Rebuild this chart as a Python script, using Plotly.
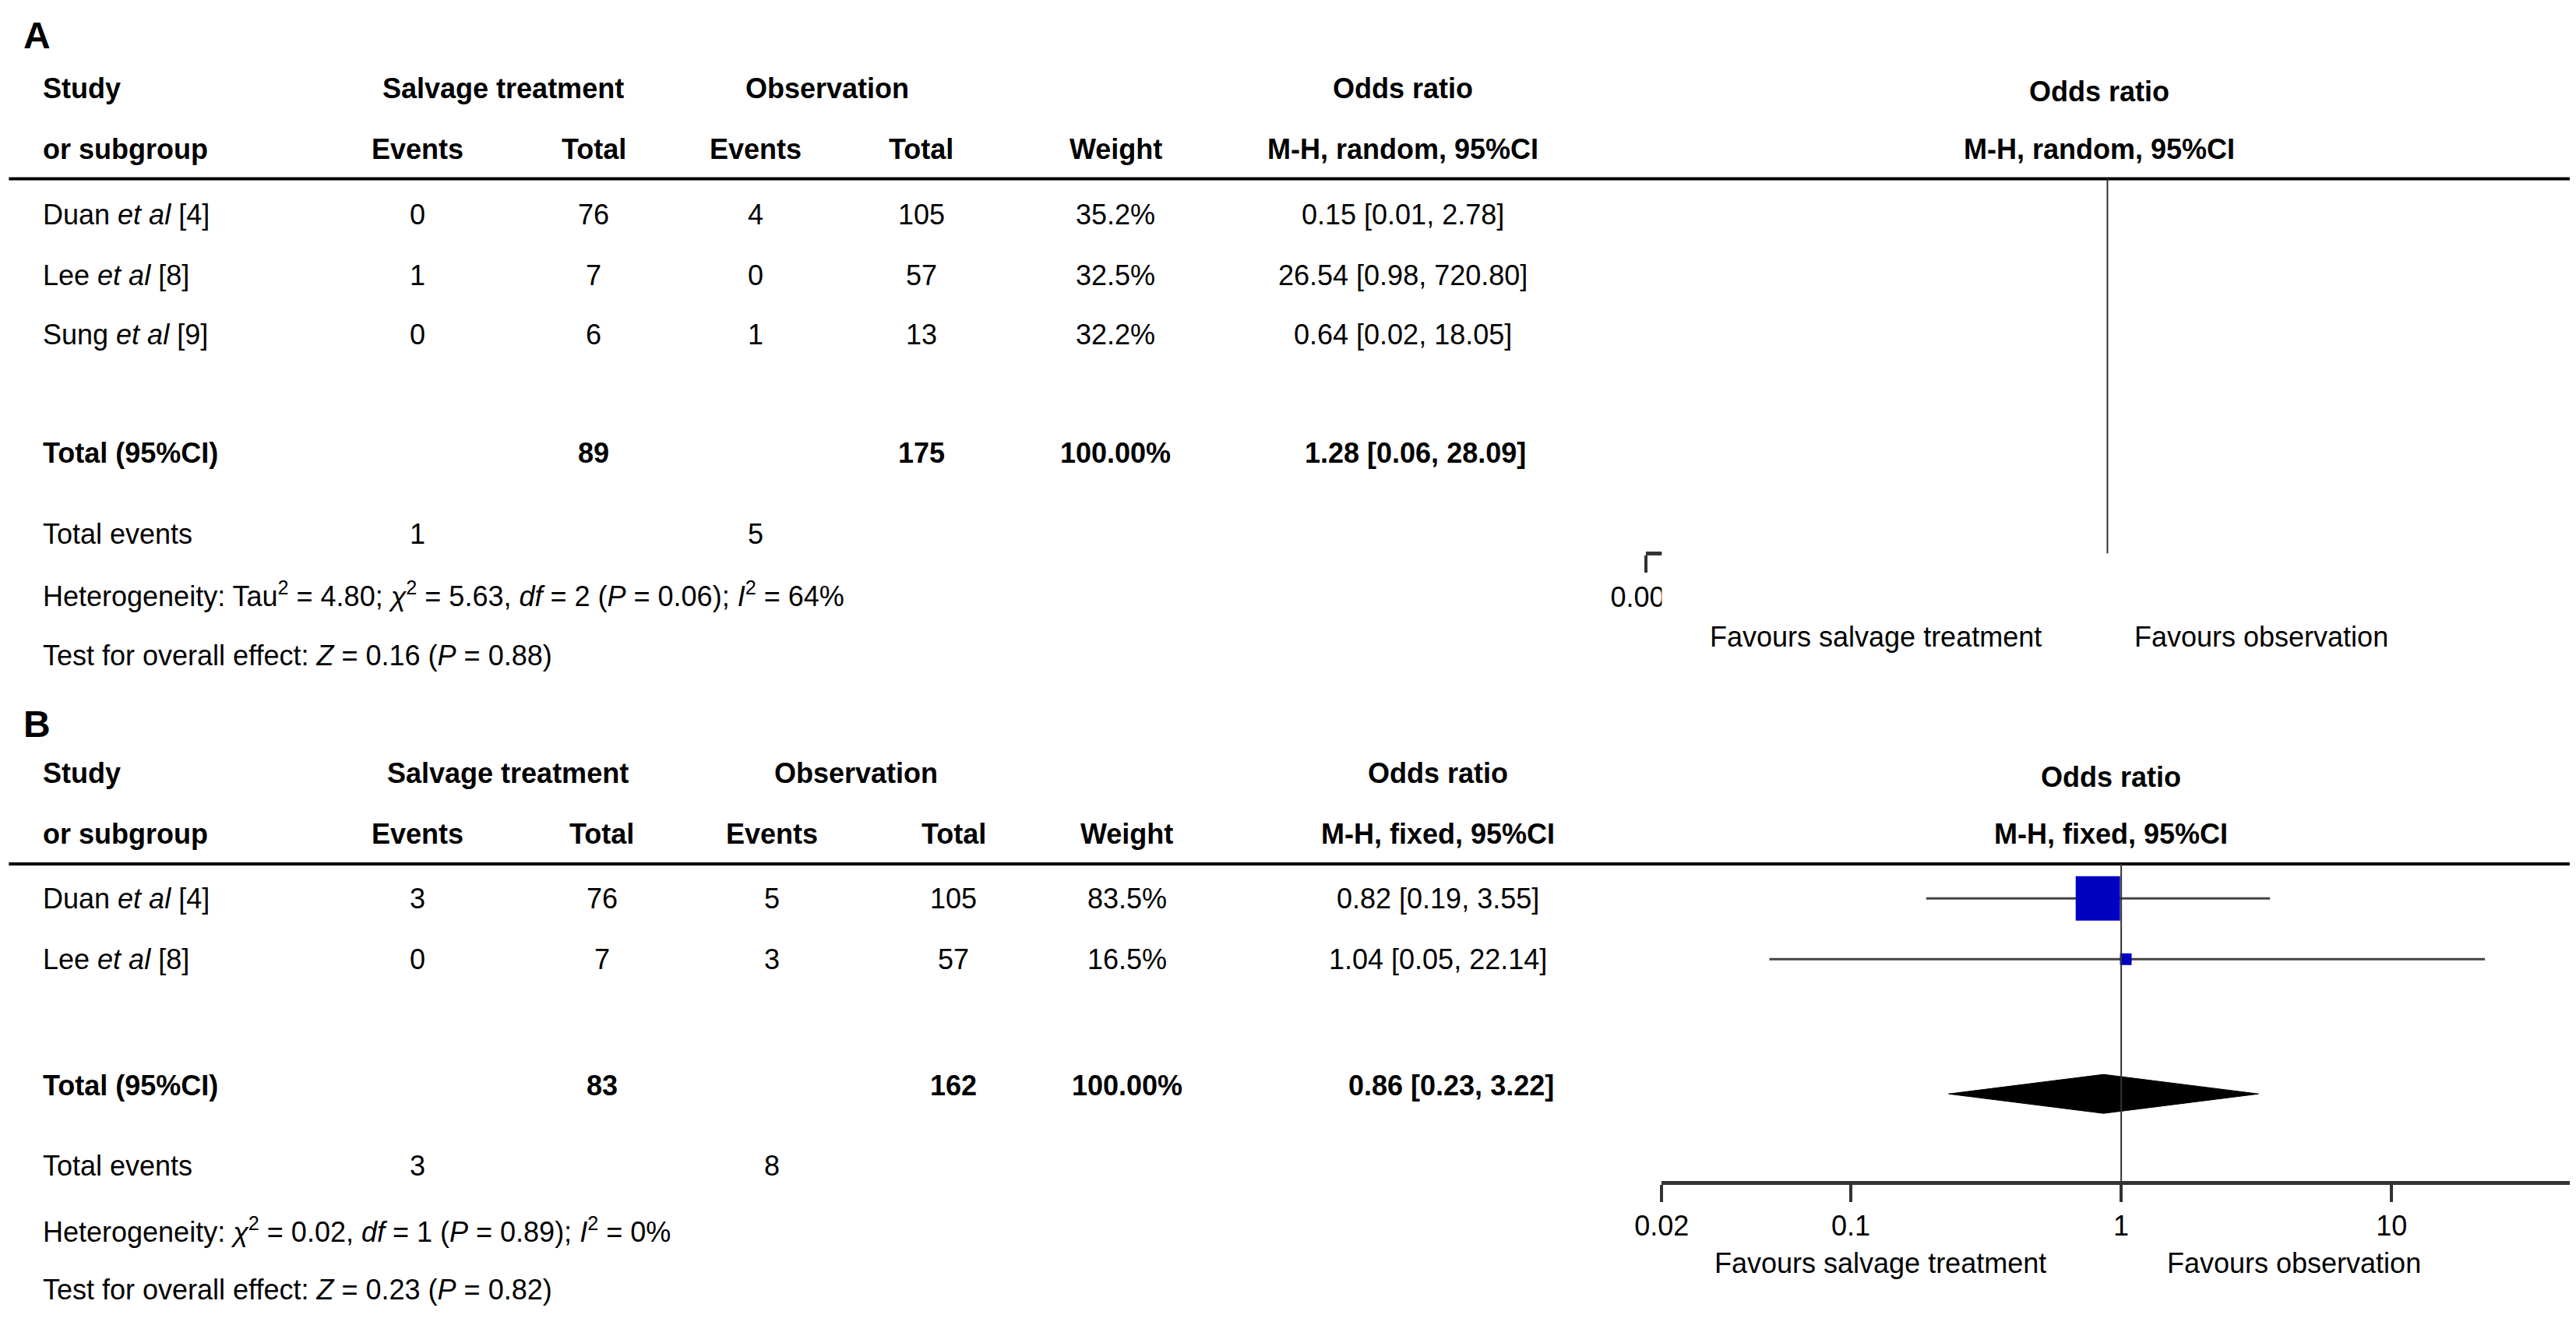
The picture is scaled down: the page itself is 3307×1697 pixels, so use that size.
import plotly.graph_objects as go

W, H = 3307, 1697
S = W / 1568.0          # reference sketch units -> page pixels
FONT = "Liberation Sans"
FS = 36

# ===========[ Data: panel A ]=========== #
studies_a = ["Duan <i>et al</i> [4]", "Lee <i>et al</i> [8]", "Sung <i>et al</i> [9]"]
ev_s_a = [0, 1, 0]
tot_s_a = [76, 7, 6]
ev_o_a = [4, 0, 1]
tot_o_a = [105, 57, 13]
weight_a = ["35.2%", "32.5%", "32.2%"]
or_a = [0.15, 26.54, 0.64]
lo_a = [0.01, 0.98, 0.02]
hi_a = [2.78, 720.80, 18.05]
total_a = {"s": 89, "o": 175, "ev_s": 1, "ev_o": 5, "or": 1.28, "lo": 0.06, "hi": 28.09}
ticks_a = [0.001, 0.1, 1, 10, 1000]

# ===========[ Data: panel B ]=========== #
studies_b = ["Duan <i>et al</i> [4]", "Lee <i>et al</i> [8]"]
ev_s_b = [3, 0]
tot_s_b = [76, 7]
ev_o_b = [5, 3]
tot_o_b = [105, 57]
weight_b = ["83.5%", "16.5%"]
or_b = [0.82, 1.04]
lo_b = [0.19, 0.05]
hi_b = [3.55, 22.14]
total_b = {"s": 83, "o": 162, "ev_s": 3, "ev_o": 8, "or": 0.86, "lo": 0.23, "hi": 3.22}
ticks_b = [0.02, 0.1, 1, 10, 50]

fig = go.Figure()
ann = []


def T(x, y, text, anchor="center", bold=False, size=FS):
	if bold:
		text = "<b>" + text + "</b>"
	ann.append(dict(x=x * S / W, y=1 - y * S / H, xref="paper", yref="paper", text=text,
		showarrow=False, xanchor=anchor, yanchor="middle", font=dict(family=FONT, size=size, color="black")))


def panel(xa, y0, cols, studies, ev_s, tot_s, ev_o, tot_o, wts, ors, los, his, tot, model, rows_y, tot_y, sizes, dia_h):
	c_ev_s, c_tot_s, c_ev_o, c_tot_o, c_w, c_or, c_right, c_sal, c_obs = cols
	# headers
	T(0, y0, "Study", "left", True)
	T(0, y0 + 37, "or subgroup", "left", True)
	T(c_sal, y0, "Salvage treatment", bold=True)
	T(c_obs, y0, "Observation", bold=True)
	T(c_ev_s, y0 + 37, "Events", bold=True)
	T(c_tot_s, y0 + 37, "Total", bold=True)
	T(c_ev_o, y0 + 37, "Events", bold=True)
	T(c_tot_o, y0 + 37, "Total", bold=True)
	T(c_w, y0 + 37, "Weight", bold=True)
	T(c_or, y0, "Odds ratio", bold=True)
	T(c_or, y0 + 37, "M-H, %s, 95%%CI" % model, bold=True)
	T(c_right, y0 + 2, "Odds ratio", bold=True)
	T(c_right, y0 + 37, "M-H, %s, 95%%CI" % model, bold=True)
	for i, st in enumerate(studies):
		y = rows_y[i]
		T(0, y, st, "left")
		T(c_ev_s, y, str(ev_s[i]))
		T(c_tot_s, y, str(tot_s[i]))
		T(c_ev_o, y, str(ev_o[i]))
		T(c_tot_o, y, str(tot_o[i]))
		T(c_w, y, wts[i])
		T(c_or, y, "%.2f [%.2f, %.2f]" % (ors[i], los[i], his[i]))
		fig.add_trace(go.Scatter(x=[los[i], his[i]], y=[y * S, y * S], mode="lines", xaxis=xa, yaxis="y",
			line=dict(color="#444444", width=3), showlegend=False, hoverinfo="skip"))
		fig.add_trace(go.Scatter(x=[ors[i]], y=[y * S], mode="markers", xaxis=xa, yaxis="y",
			marker=dict(symbol="square", size=sizes[i], color="#0000c0", line_width=0), showlegend=False))
	T(0, tot_y, "Total (95%CI)", "left", True)
	T(c_tot_s, tot_y, str(tot["s"]), bold=True)
	T(c_tot_o, tot_y, str(tot["o"]), bold=True)
	T(c_w, tot_y, "100.00%", bold=True)
	T(c_or + 8, tot_y, "%.2f [%.2f, %.2f]" % (tot["or"], tot["lo"], tot["hi"]), bold=True)
	yd = (tot_y + 5) * S
	fig.add_trace(go.Scatter(x=[tot["lo"], tot["or"], tot["hi"], tot["or"], tot["lo"]],
		y=[yd, yd - dia_h, yd, yd + dia_h, yd], mode="lines", fill="toself", fillcolor="black",
		line=dict(color="black", width=1), xaxis=xa, yaxis="y", showlegend=False, hoverinfo="skip"))
	T(0, tot_y + 49, "Total events", "left")
	T(c_ev_s, tot_y + 49, str(tot["ev_s"]))
	T(c_ev_o, tot_y + 49, str(tot["ev_o"]))


# Panel A
T(-12, 18, "A", "left", True, 48)
panel("x2", 50, (232, 341, 441, 543, 663, 840, 1270, 285, 485), studies_a, ev_s_a, tot_s_a, ev_o_a, tot_o_a,
	weight_a, or_a, lo_a, hi_a, total_a, "random", [127, 164, 200], 272, [28, 28, 28], 25)
T(0, 358, "Heterogeneity: Tau<sup>2</sup> = 4.80; <i>χ</i><sup>2</sup> = 5.63, <i>df</i> = 2 (<i>P</i> = 0.06); <i>I</i><sup>2</sup> = 64%", "left")
T(0, 395, "Test for overall effect: <i>Z</i> = 0.16 (<i>P</i> = 0.88)", "left")
T(1132, 384, "Favours salvage treatment")
T(1370, 384, "Favours observation")

# Panel B
T(-12, 437, "B", "left", True, 48)
panel("x3", 467, (232, 346, 451, 563, 670, 862, 1277, 288, 503), studies_b, ev_s_b, tot_s_b, ev_o_b, tot_o_b,
	weight_b, or_b, lo_b, hi_b, total_b, "fixed", [543, 580], 657, [57, 15], 25)
T(0, 745, "Heterogeneity: <i>χ</i><sup>2</sup> = 0.02, <i>df</i> = 1 (<i>P</i> = 0.89); <i>I</i><sup>2</sup> = 0%", "left")
T(0, 781, "Test for overall effect: <i>Z</i> = 0.23 (<i>P</i> = 0.82)", "left")
T(1135, 765, "Favours salvage treatment")
T(1390, 765, "Favours observation")

shapes = [
	dict(type="line", xref="paper", yref="y", x0=-20 * S / W, x1=1565 * S / W, y0=105 * S, y1=105 * S, line=dict(color="black", width=4)),
	dict(type="line", xref="paper", yref="y", x0=-20 * S / W, x1=1, y0=522 * S, y1=522 * S, line=dict(color="black", width=4)),
	dict(type="line", xref="x2", yref="y", x0=1, x1=1, y0=105 * S, y1=333 * S, line=dict(color="#333333", width=2)),
	dict(type="line", xref="x3", yref="y", x0=1, x1=1, y0=522 * S, y1=716 * S, line=dict(color="#333333", width=2)),
]

axis_common = dict(type="log", anchor="free", showline=True, linecolor="#333333", linewidth=5,
	ticks="outside", ticklen=22, tickwidth=4, tickcolor="#333333", showgrid=False, zeroline=False,
	tickfont=dict(family=FONT, size=FS, color="black"), fixedrange=True)

fig.update_layout(
	width=W, height=H, margin=dict(l=0, r=0, t=0, b=0), plot_bgcolor="white", paper_bgcolor="white",
	xaxis=dict(domain=[0, 1], range=[0, 1], visible=False, fixedrange=True),
	xaxis2=dict(domain=[990 * S / W, 1560 * S / W], range=[-3, 3], position=1 - 333 * S / H,
		tickvals=ticks_a, ticktext=[str(t) for t in ticks_a], **axis_common),
	xaxis3=dict(domain=[1000 * S / W, 1567 * S / W], range=[-1.69897, 1.69897], position=1 - 716 * S / H,
		tickvals=ticks_b, ticktext=[str(t) for t in ticks_b], **axis_common),
	yaxis=dict(range=[H, 0], domain=[0, 1], visible=False, fixedrange=True, anchor="x"),
	annotations=ann, shapes=shapes, showlegend=False,
)

fig.write_html("out.html")
